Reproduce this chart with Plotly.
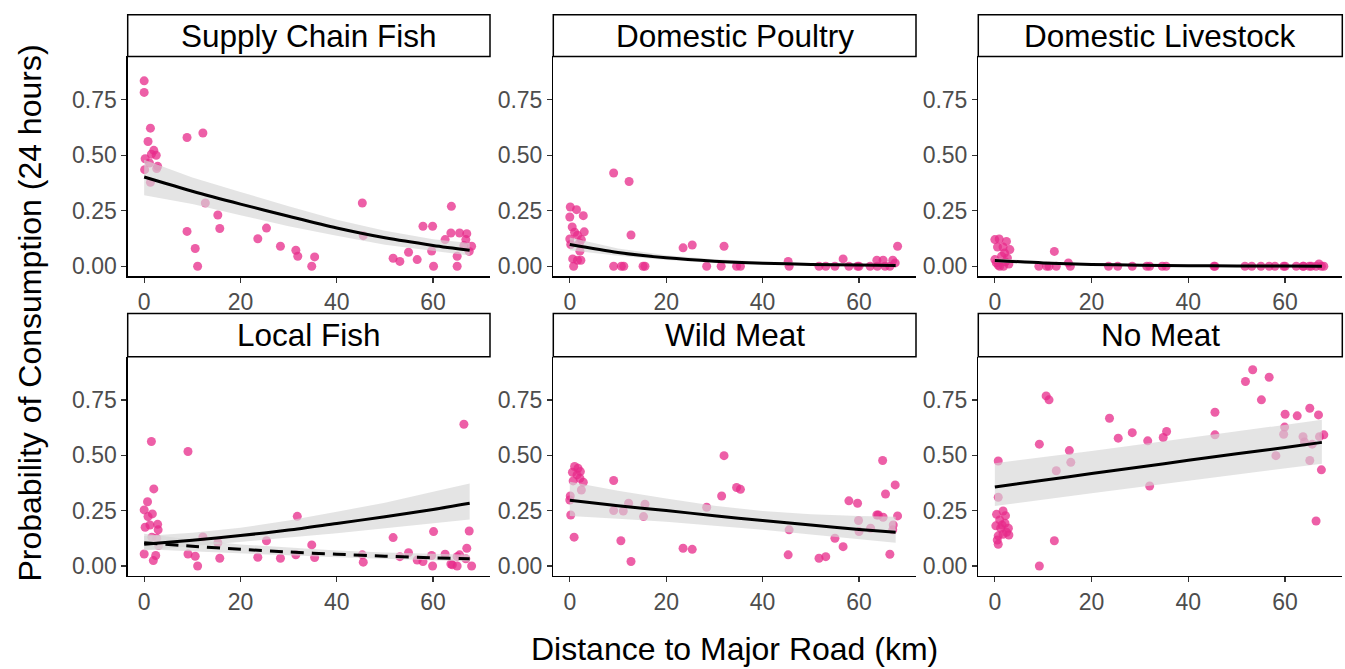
import plotly.graph_objects as go

W, H = 1345, 669

panel_titles = ["Supply Chain Fish", "Domestic Poultry", "Domestic Livestock",
                "Local Fish", "Wild Meat", "No Meat"]
x_title = "Distance to Major Road (km)"
y_title = "Probability of Consumption (24 hours)"
x_ticks = [0, 20, 40, 60]
y_ticks = [0, 0.25, 0.5, 0.75]
y_tick_labels = ["0.00", "0.25", "0.50", "0.75"]

# ---------------- observed points ----------------
scf_x = [0.0, 0.0, 1.3, 0.8, 2.0, 1.5, 2.5, 0.2, 1.1, 2.8, 0.1, 1.3, 2.6, 8.9, 12.2, 8.9, 10.6, 11.1, 12.7, 15.3,
         15.7, 23.6, 25.4, 28.3, 31.5, 31.9, 34.8, 35.4, 45.3, 45.5, 51.7, 53.1, 54.9, 56.7, 57.9, 59.9, 59.7, 60.1,
         62.5, 63.8, 63.7, 65.5, 65.0, 65.0, 67.0, 66.8, 66.4, 68.0, 67.5]
scf_y = [0.835, 0.783, 0.622, 0.562, 0.522, 0.505, 0.50, 0.484, 0.465, 0.45, 0.435, 0.378, 0.44, 0.58, 0.60, 0.157,
         0.08, 0.0, 0.285, 0.231, 0.17, 0.124, 0.172, 0.09, 0.072, 0.045, 0.0, 0.042, 0.285, 0.138, 0.036, 0.022,
         0.063, 0.03, 0.18, 0.18, 0.069, 0.0, 0.12, 0.27, 0.15, 0.15, 0.045, 0.0, 0.147, 0.12, 0.093, 0.09, 0.067]

dp_x = [0.1, 1.4, 2.8, 0.0, 0.5, 3.0, 1.0, 0.0, 0.2, 1.6, 2.4, 2.1, 0.6, 1.6, 2.3, 0.8, 2.0, 9.1, 12.3, 12.7,
        9.1, 10.7, 11.2, 15.2, 15.6, 23.5, 25.4, 28.4, 32.0, 31.4, 34.6, 35.4, 45.3, 45.5, 51.7, 53.1, 55.0, 56.7,
        57.9, 59.7, 60.0, 62.3, 63.7, 63.8, 65.0, 65.4, 66.4, 67.0, 67.5, 68.0]
dp_y = [0.267, 0.255, 0.228, 0.222, 0.177, 0.155, 0.153, 0.123, 0.098, 0.14, 0.12, 0.068, 0.033, 0.027, 0.027, 0.0,
        0.105, 0.42, 0.382, 0.141, 0.0, 0.0, 0.0, 0.0, 0.0, 0.083, 0.096, 0.0, 0.09, 0.0, 0.0, 0.0, 0.022, 0.0, 0.0,
        0.0, 0.0, 0.033, 0.0, 0.0, 0.0, 0.0, 0.027, 0.0, 0.027, 0.0, 0.0, 0.027, 0.015, 0.09]

dl_x = [0.0, 0.9, 2.4, 0.55, 1.7, 3.1, 2.0, 0.0, 1.4, 2.6, 0.3, 1.0, 2.2, 0.7, 1.8, 2.9, 9.1, 10.7, 11.2, 12.3,
        12.7, 15.2, 15.6, 23.5, 25.4, 28.4, 31.4, 32.0, 34.6, 35.4, 45.3, 45.5, 51.7, 53.1, 55.0, 56.7, 57.9, 59.7,
        60.0, 62.3, 63.7, 63.8, 65.0, 65.4, 66.4, 67.0, 67.5, 68.0]
dl_y = [0.12, 0.123, 0.112, 0.087, 0.087, 0.075, 0.06, 0.03, 0.045, 0.037, 0.015, 0.0, 0.02, 0.005, 0.0, 0.01, 0.0,
        0.0, 0.0, 0.067, 0.0, 0.015, 0.0, 0.0, 0.0, 0.0, 0.0, 0.0, 0.0, 0.0, 0.0, 0.0, 0.0, 0.0, 0.0, 0.0, 0.0, 0.0,
        0.0, 0.0, 0.0, 0.0, 0.0, 0.0, 0.0, 0.01, 0.0, 0.0]

lf_x = [1.5, 9.1, 2.0, 0.7, 0.0, 1.7, 0.8, 2.8, 1.2, 0.2, 2.9, 1.6, 2.6, 3.0, 0.0, 2.4, 1.9, 9.1, 10.6, 11.1,
        12.2, 15.3, 15.7, 23.6, 25.4, 28.3, 31.8, 31.5, 34.8, 35.4, 45.3, 45.5, 51.7, 53.1, 54.9, 56.7, 57.9, 60.1,
        59.7, 59.9, 62.5, 63.7, 64.0, 65.0, 65.5, 65.0, 66.4, 67.0, 67.5, 68.0, 66.8]
lf_y = [0.562, 0.517, 0.348, 0.29, 0.253, 0.235, 0.223, 0.188, 0.185, 0.175, 0.163, 0.13, 0.125, 0.092, 0.054,
        0.047, 0.024, 0.054, 0.044, 0.0, 0.131, 0.105, 0.035, 0.039, 0.114, 0.035, 0.224, 0.05, 0.095, 0.038, 0.05,
        0.017, 0.128, 0.042, 0.06, 0.027, 0.02, 0.155, 0.047, 0.0, 0.053, 0.009, 0.005, 0.0, 0.05, 0.042, 0.64,
        0.08, 0.158, 0.0, 0.032]

wm_x = [1.0, 1.7, 2.2, 0.55, 1.5, 2.1, 2.8, 0.7, 2.4, 0.1, 0.0, 0.2, 0.9, 9.1, 9.1, 10.6, 11.1, 12.2, 12.7, 15.6,
        15.3, 23.5, 25.4, 28.4, 31.5, 32.0, 34.6, 35.4, 45.5, 45.3, 51.7, 53.1, 55.0, 56.7, 57.9, 59.7, 59.9, 60.0,
        62.4, 63.7, 64.0, 64.9, 65.0, 65.5, 66.4, 67.0, 67.1, 67.5, 68.0]
wm_y = [0.449, 0.441, 0.426, 0.423, 0.411, 0.396, 0.378, 0.384, 0.343, 0.316, 0.298, 0.23, 0.13, 0.386, 0.25,
        0.114, 0.248, 0.283, 0.02, 0.279, 0.223, 0.08, 0.075, 0.265, 0.316, 0.498, 0.354, 0.346, 0.163, 0.05, 0.035,
        0.042, 0.125, 0.087, 0.294, 0.283, 0.205, 0.155, 0.17, 0.23, 0.23, 0.476, 0.22, 0.325, 0.053, 0.163, 0.185,
        0.366, 0.226]

nm_x = [0.7, 0.7, 0.35, 1.7, 2.2, 1.0, 0.2, 1.2, 2.8, 1.5, 2.1, 0.7, 1.7, 2.9, 0.5, 0.7, 2.4, 9.2, 9.2, 10.6,
        11.2, 12.7, 12.3, 15.4, 15.7, 23.7, 25.5, 28.4, 31.6, 32.0, 34.8, 35.5, 45.5, 45.5, 51.8, 53.3, 55.1, 56.7,
        58.1, 60.0, 59.9, 59.7, 62.5, 63.7, 64.0, 65.1, 65.6, 65.1, 66.4, 66.9, 67.1, 67.5, 68.0]
nm_y = [0.474, 0.31, 0.233, 0.248, 0.227, 0.208, 0.181, 0.17, 0.17, 0.185, 0.193, 0.136, 0.143, 0.14, 0.117, 0.098,
        0.152, 0.55, 0.0, 0.768, 0.75, 0.43, 0.114, 0.521, 0.468, 0.667, 0.577, 0.602, 0.565, 0.361, 0.58, 0.607,
        0.694, 0.592, 0.833, 0.886, 0.75, 0.852, 0.498, 0.685, 0.627, 0.595, 0.678, 0.584, 0.56, 0.712, 0.55, 0.476,
        0.203, 0.682, 0.584, 0.434, 0.592]

# ---------------- fitted curves ----------------
fit_x = [0, 10, 20, 30, 40, 50, 60, 67.6]

scf_fit = [0.402, 0.338, 0.28, 0.225, 0.172, 0.128, 0.094, 0.072]
scf_hi = [0.48, 0.40, 0.335, 0.27, 0.21, 0.16, 0.122, 0.105]
scf_lo = [0.32, 0.28, 0.23, 0.18, 0.137, 0.097, 0.068, 0.048]

dp_fit = [0.098, 0.062, 0.038, 0.023, 0.014, 0.0085, 0.0052, 0.0036]
dp_hi = [0.13, 0.08, 0.05, 0.032, 0.021, 0.014, 0.0095, 0.0075]
dp_lo = [0.072, 0.047, 0.028, 0.016, 0.009, 0.005, 0.0028, 0.0017]

dl_fit = [0.026, 0.015, 0.0085, 0.0048, 0.0027, 0.0015, 0.0009, 0.0006]
dl_hi = [0.036, 0.021, 0.013, 0.0078, 0.0048, 0.003, 0.002, 0.0015]
dl_lo = [0.018, 0.0105, 0.0056, 0.003, 0.0015, 0.0008, 0.0004, 0.0002]

lf_fit = [0.098, 0.116, 0.137, 0.162, 0.192, 0.222, 0.255, 0.283]
lf_hi = [0.135, 0.15, 0.172, 0.205, 0.245, 0.285, 0.335, 0.372]
lf_lo = [0.07, 0.088, 0.108, 0.128, 0.148, 0.168, 0.193, 0.21]
lf2_fit = [0.105, 0.089, 0.075, 0.063, 0.053, 0.044, 0.037, 0.032]
lf2_hi = [0.145, 0.118, 0.097, 0.082, 0.07, 0.061, 0.054, 0.05]
lf2_lo = [0.075, 0.066, 0.057, 0.048, 0.039, 0.031, 0.025, 0.02]

wm_fit = [0.297, 0.272, 0.25, 0.227, 0.205, 0.185, 0.165, 0.152]
wm_hi = [0.38, 0.34, 0.305, 0.272, 0.248, 0.233, 0.225, 0.222]
wm_lo = [0.225, 0.213, 0.2, 0.183, 0.163, 0.142, 0.12, 0.105]

nm_fit = [0.357, 0.387, 0.417, 0.447, 0.477, 0.507, 0.535, 0.558]
nm_hi = [0.464, 0.49, 0.519, 0.548, 0.577, 0.606, 0.635, 0.66]
nm_lo = [0.271, 0.30, 0.328, 0.356, 0.385, 0.413, 0.44, 0.462]

panels = [
    (scf_x, scf_y, [(scf_fit, scf_lo, scf_hi, "solid")]),
    (dp_x, dp_y, [(dp_fit, dp_lo, dp_hi, "solid")]),
    (dl_x, dl_y, [(dl_fit, dl_lo, dl_hi, "solid")]),
    (lf_x, lf_y, [(lf_fit, lf_lo, lf_hi, "solid"), (lf2_fit, lf2_lo, lf2_hi, "13px,8px")]),
    (wm_x, wm_y, [(wm_fit, wm_lo, wm_hi, "solid")]),
    (nm_x, nm_y, [(nm_fit, nm_lo, nm_hi, "solid")]),
]

# ---------------- layout geometry (pixels) ----------------
col_px = [(127.7, 490.0), (553.3, 916.0), (978.3, 1342.3)]
row_px = [(56.7, 277.5), (358.3, 578.5)]
strip_px = [(14.7, 56.7), (315.0, 358.3)]

FONT = "Liberation Sans, Arial, Helvetica, sans-serif"
PINK = "rgba(231,41,138,0.75)"
RIBBON = "rgba(213,213,213,0.65)"

fig = go.Figure()
shapes = []
annotations = []
layout_axes = {}

for i, (px, py, fits) in enumerate(panels):
    r, c = divmod(i, 3)
    n = i + 1
    xa = "x" if n == 1 else f"x{n}"
    ya = "y" if n == 1 else f"y{n}"

    fig.add_trace(go.Scatter(x=px, y=py, mode="markers", xaxis=xa, yaxis=ya,
                             marker=dict(size=9, color=PINK, line=dict(width=0)),
                             hoverinfo="skip", showlegend=False))
    for fit, lo, hi, dash in fits:
        fig.add_trace(go.Scatter(x=fit_x + fit_x[::-1], y=hi + lo[::-1], mode="lines",
                                 fill="toself", fillcolor=RIBBON, line=dict(width=0),
                                 xaxis=xa, yaxis=ya, hoverinfo="skip", showlegend=False))
    for fit, lo, hi, dash in fits:
        fig.add_trace(go.Scatter(x=fit_x, y=fit, mode="lines", line=dict(color="black", width=3,
                                 dash=dash, shape="spline", smoothing=0.8),
                                 xaxis=xa, yaxis=ya, hoverinfo="skip", showlegend=False))

    l, rr = col_px[c]
    t, b = row_px[r]
    axis_common = dict(showline=True, linecolor="black", linewidth=1.3, showgrid=False, zeroline=False,
                       ticks="outside", ticklen=5, tickwidth=1.3, tickcolor="#333333",
                       tickfont=dict(family=FONT, size=23, color="#4D4D4D"), fixedrange=True)
    layout_axes["xaxis" if n == 1 else f"xaxis{n}"] = dict(
        domain=[l / W, rr / W], anchor=ya, range=[-3.42, 71.82],
        tickvals=x_ticks, ticktext=[str(v) for v in x_ticks], **axis_common)
    layout_axes["yaxis" if n == 1 else f"yaxis{n}"] = dict(
        domain=[1 - b / H, 1 - t / H], anchor=xa, range=[-0.045, 0.945],
        tickvals=y_ticks, ticktext=y_tick_labels, **axis_common)

    st, sb = strip_px[r]
    shapes.append(dict(type="rect", xref="paper", yref="paper", x0=l / W, x1=rr / W,
                       y0=1 - sb / H, y1=1 - st / H, line=dict(color="black", width=1.5),
                       fillcolor="white", layer="below"))
    annotations.append(dict(text=panel_titles[i], xref="paper", yref="paper",
                            x=(l + rr) / 2 / W, y=1 - (st + sb) / 2 / H, xanchor="center", yanchor="middle",
                            showarrow=False, font=dict(family=FONT, size=31.5, color="black")))

annotations.append(dict(text=x_title, xref="paper", yref="paper", x=734 / W, y=1 - 652 / H,
                        xanchor="center", yanchor="middle", showarrow=False,
                        font=dict(family=FONT, size=32, color="black")))
annotations.append(dict(text=y_title, xref="paper", yref="paper", x=30 / W, y=1 - 315 / H,
                        xanchor="center", yanchor="middle", showarrow=False, textangle=-90,
                        font=dict(family=FONT, size=32, color="black")))

fig.update_layout(width=W, height=H, autosize=False, margin=dict(l=0, r=0, t=0, b=0),
                  paper_bgcolor="white", plot_bgcolor="white", showlegend=False,
                  shapes=shapes, annotations=annotations, **layout_axes)

fig.write_html("out.html", config={"displayModeBar": False, "staticPlot": True},
               post_script="document.body.style.margin='0';document.body.style.padding='0';"
                           "document.body.style.overflow='hidden';")
